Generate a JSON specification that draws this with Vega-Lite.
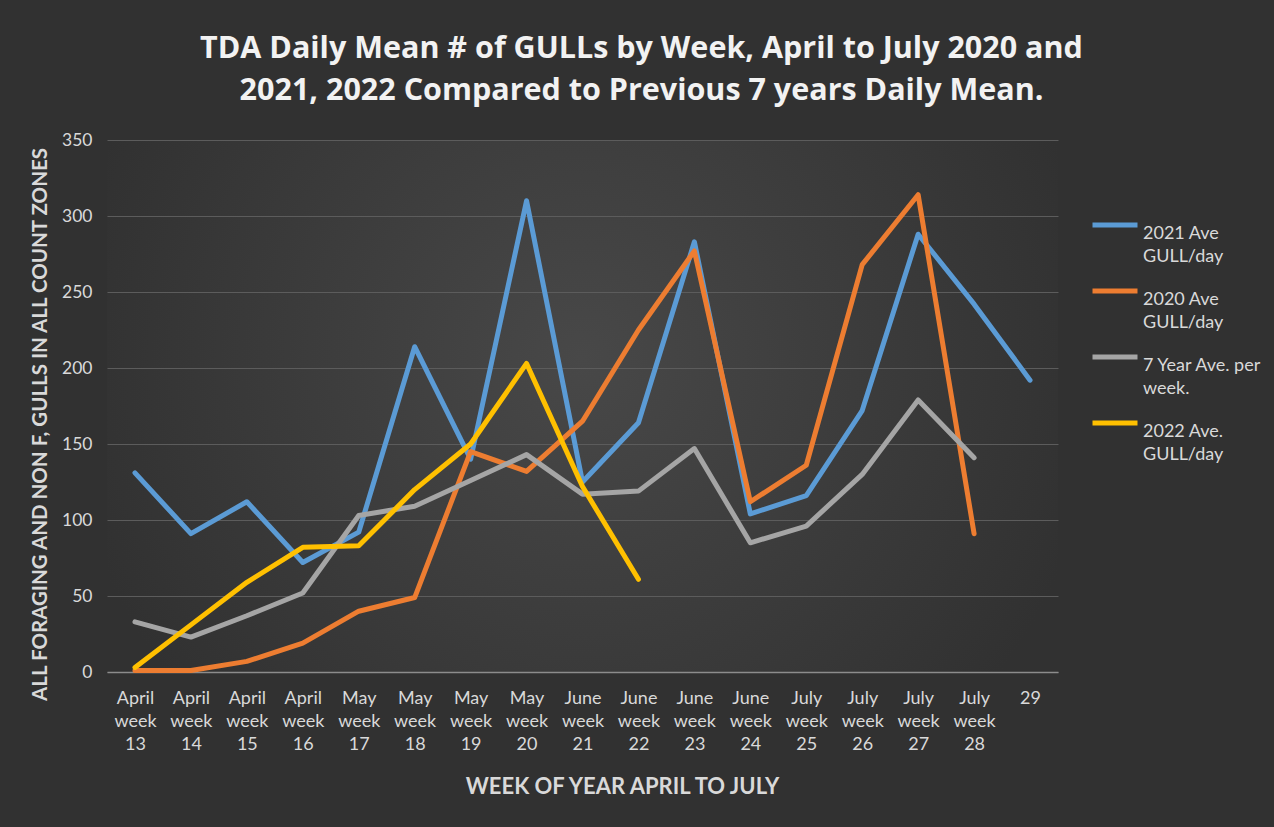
{
"$schema": "https://vega.github.io/schema/vega-lite/v6.json",
"width": 951,
"height": 532,
"autosize": "none",
"padding": {"left": 107, "top": 140, "right": 216, "bottom": 155},
"background": "#313131",
"view": {"stroke": null, "fill": {"gradient": "radial", "x1": 0.5, "y1": 0.45, "r1": 0, "x2": 0.5, "y2": 0.45, "r2": 0.55, "stops": [{"offset": 0, "color": "#484848"}, {"offset": 1, "color": "#313131"}]}},
"config": {"font": "Lato", "style": {"guide-label": {"lineHeight": 23}}},
"title": {
  "text": ["TDA Daily Mean # of GULLs by Week, April to July 2020 and", "2021, 2022 Compared to Previous 7 years Daily Mean."],
  "font": "Open Sans", "fontSize": 30.5, "fontWeight": "bold", "color": "#F2F2F2",
  "anchor": "middle", "dx": 59, "lineHeight": 42, "offset": 25
},
"data": {"values": [
  {"week": "April week 13", "series": "2021 Ave GULL/day", "value": 131},
  {"week": "April week 14", "series": "2021 Ave GULL/day", "value": 91},
  {"week": "April week 15", "series": "2021 Ave GULL/day", "value": 112},
  {"week": "April week 16", "series": "2021 Ave GULL/day", "value": 72},
  {"week": "May week 17", "series": "2021 Ave GULL/day", "value": 92},
  {"week": "May week 18", "series": "2021 Ave GULL/day", "value": 214},
  {"week": "May week 19", "series": "2021 Ave GULL/day", "value": 140},
  {"week": "May week 20", "series": "2021 Ave GULL/day", "value": 310},
  {"week": "June week 21", "series": "2021 Ave GULL/day", "value": 125},
  {"week": "June week 22", "series": "2021 Ave GULL/day", "value": 164},
  {"week": "June week 23", "series": "2021 Ave GULL/day", "value": 283},
  {"week": "June week 24", "series": "2021 Ave GULL/day", "value": 104},
  {"week": "July week 25", "series": "2021 Ave GULL/day", "value": 116},
  {"week": "July week 26", "series": "2021 Ave GULL/day", "value": 172},
  {"week": "July week 27", "series": "2021 Ave GULL/day", "value": 288},
  {"week": "July week 28", "series": "2021 Ave GULL/day", "value": 242},
  {"week": "29", "series": "2021 Ave GULL/day", "value": 192},
  {"week": "April week 13", "series": "2020 Ave GULL/day", "value": 1},
  {"week": "April week 14", "series": "2020 Ave GULL/day", "value": 1},
  {"week": "April week 15", "series": "2020 Ave GULL/day", "value": 7},
  {"week": "April week 16", "series": "2020 Ave GULL/day", "value": 19},
  {"week": "May week 17", "series": "2020 Ave GULL/day", "value": 40},
  {"week": "May week 18", "series": "2020 Ave GULL/day", "value": 49},
  {"week": "May week 19", "series": "2020 Ave GULL/day", "value": 145},
  {"week": "May week 20", "series": "2020 Ave GULL/day", "value": 132},
  {"week": "June week 21", "series": "2020 Ave GULL/day", "value": 165},
  {"week": "June week 22", "series": "2020 Ave GULL/day", "value": 225},
  {"week": "June week 23", "series": "2020 Ave GULL/day", "value": 277},
  {"week": "June week 24", "series": "2020 Ave GULL/day", "value": 112},
  {"week": "July week 25", "series": "2020 Ave GULL/day", "value": 136},
  {"week": "July week 26", "series": "2020 Ave GULL/day", "value": 268},
  {"week": "July week 27", "series": "2020 Ave GULL/day", "value": 314},
  {"week": "July week 28", "series": "2020 Ave GULL/day", "value": 91},
  {"week": "April week 13", "series": "7 Year Ave. per week.", "value": 33},
  {"week": "April week 14", "series": "7 Year Ave. per week.", "value": 23},
  {"week": "April week 15", "series": "7 Year Ave. per week.", "value": 37},
  {"week": "April week 16", "series": "7 Year Ave. per week.", "value": 52},
  {"week": "May week 17", "series": "7 Year Ave. per week.", "value": 103},
  {"week": "May week 18", "series": "7 Year Ave. per week.", "value": 109},
  {"week": "May week 19", "series": "7 Year Ave. per week.", "value": 126},
  {"week": "May week 20", "series": "7 Year Ave. per week.", "value": 143},
  {"week": "June week 21", "series": "7 Year Ave. per week.", "value": 117},
  {"week": "June week 22", "series": "7 Year Ave. per week.", "value": 119},
  {"week": "June week 23", "series": "7 Year Ave. per week.", "value": 147},
  {"week": "June week 24", "series": "7 Year Ave. per week.", "value": 85},
  {"week": "July week 25", "series": "7 Year Ave. per week.", "value": 96},
  {"week": "July week 26", "series": "7 Year Ave. per week.", "value": 130},
  {"week": "July week 27", "series": "7 Year Ave. per week.", "value": 179},
  {"week": "July week 28", "series": "7 Year Ave. per week.", "value": 141},
  {"week": "April week 13", "series": "2022 Ave. GULL/day", "value": 3},
  {"week": "April week 14", "series": "2022 Ave. GULL/day", "value": 31},
  {"week": "April week 15", "series": "2022 Ave. GULL/day", "value": 59},
  {"week": "April week 16", "series": "2022 Ave. GULL/day", "value": 82},
  {"week": "May week 17", "series": "2022 Ave. GULL/day", "value": 83},
  {"week": "May week 18", "series": "2022 Ave. GULL/day", "value": 120},
  {"week": "May week 19", "series": "2022 Ave. GULL/day", "value": 150},
  {"week": "May week 20", "series": "2022 Ave. GULL/day", "value": 203},
  {"week": "June week 21", "series": "2022 Ave. GULL/day", "value": 122},
  {"week": "June week 22", "series": "2022 Ave. GULL/day", "value": 61}
]},
"mark": {"type": "line", "strokeWidth": 5, "strokeCap": "round", "strokeJoin": "round"},
"encoding": {
  "x": {
    "field": "week", "type": "ordinal",
    "sort": ["April week 13","April week 14","April week 15","April week 16","May week 17","May week 18","May week 19","May week 20","June week 21","June week 22","June week 23","June week 24","July week 25","July week 26","July week 27","July week 28","29"],
    "scale": {"type": "point", "padding": 0.5},
    "axis": {
      "title": "WEEK OF YEAR APRIL TO JULY",
      "labelAngle": 0, "labelExpr": "split(datum.label, ' ')",
      "labelFontSize": 18, "labelColor": "#D9D9D9", "labelLineHeight": 23,
      "labelBaseline": "top", "labelPadding": 17,
      "ticks": false, "domainColor": "#8C8C8C", "domainWidth": 1.5,
      "titleFontSize": 22, "titleFontWeight": "bold", "titleColor": "#D9D9D9",
      "titleX": 515, "titleY": 114, "titleBaseline": "middle"
    }
  },
  "y": {
    "field": "value", "type": "quantitative",
    "scale": {"domain": [0, 350]},
    "axis": {
      "values": [0, 50, 100, 150, 200, 250, 300, 350],
      "title": "ALL FORAGING AND NON F, GULLS IN ALL COUNT ZONES",
      "grid": true, "gridColor": "#5C5C5C", "gridWidth": 1,
      "domain": false, "ticks": false,
      "labelFontSize": 17.5, "labelColor": "#D9D9D9", "labelPadding": 15,
      "titleFontSize": 20.5, "titleFontWeight": "bold", "titleColor": "#D9D9D9",
      "titleX": -67, "titleY": 284, "titleBaseline": "middle"
    }
  },
  "color": {
    "field": "series", "type": "nominal",
    "scale": {
      "domain": ["2021 Ave GULL/day", "2020 Ave GULL/day", "7 Year Ave. per week.", "2022 Ave. GULL/day"],
      "range": ["#5B9BD5", "#ED7D31", "#A5A5A5", "#FFC000"]
    },
    "legend": {
      "orient": "none", "legendX": 983, "legendY": 60, "title": null,
      "symbolType": "stroke", "symbolStrokeWidth": 5, "symbolSize": 2025,
      "labelFontSize": 18, "labelColor": "#D9D9D9",
      "labelBaseline": "top", "labelOffset": 3, "labelLimit": 200, "rowPadding": -1.5,
      "labelExpr": "[slice(datum.label, 0, lastindexof(datum.label, ' ')), slice(datum.label, lastindexof(datum.label, ' ') + 1)]"
    }
  }
}
}
